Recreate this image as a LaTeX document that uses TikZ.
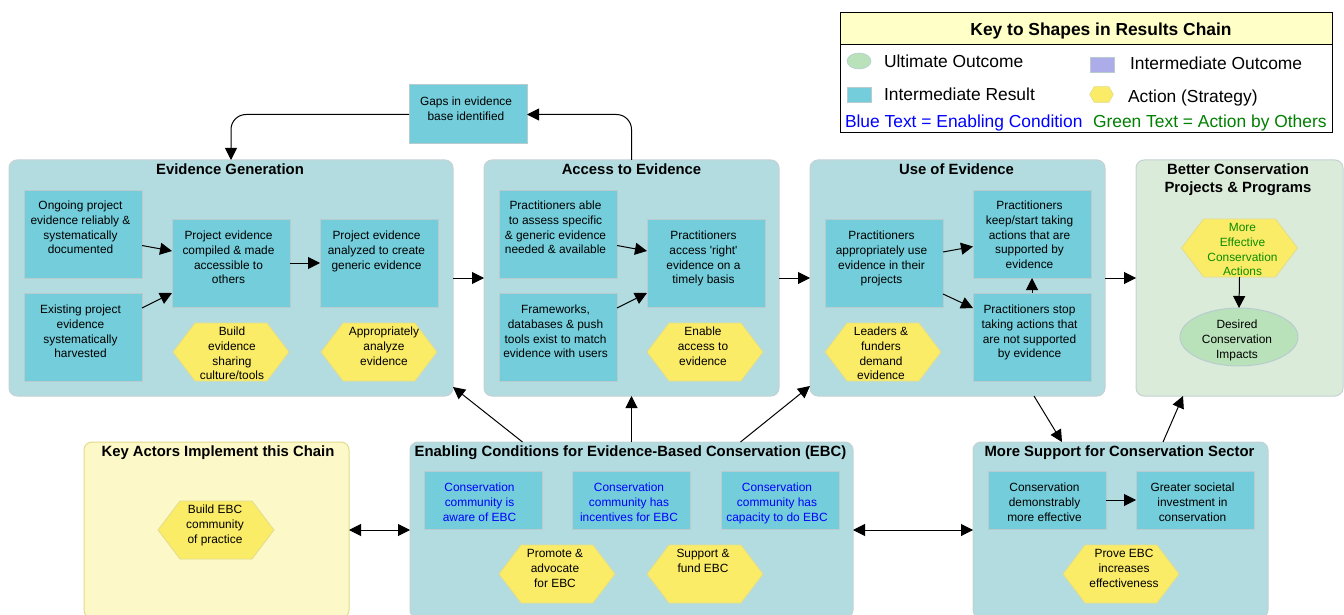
\documentclass[tikz,border=0pt]{standalone}
\usepackage{fontspec}
\setmainfont{Liberation Sans}
\newfontfamily\plainf{Liberation Sans}
\usetikzlibrary{arrows.meta,shapes.geometric}
\definecolor{irfill}{RGB}{115,205,218}
\definecolor{irline}{RGB}{184,204,208}
\definecolor{panelfill}{RGB}{179,220,224}
\definecolor{panelline}{RGB}{196,210,212}
\definecolor{hexfill}{RGB}{251,236,103}
\definecolor{hexline}{RGB}{226,220,140}
\definecolor{greenpanel}{RGB}{218,235,217}
\definecolor{ellfill}{RGB}{185,226,186}
\definecolor{keyhead}{RGB}{255,255,200}
\definecolor{actorpanel}{RGB}{252,248,200}
\definecolor{iofill}{RGB}{172,172,232}
\definecolor{greentext}{RGB}{0,128,0}
\definecolor{hexgreen}{RGB}{10,140,0}
\makeatletter
\pgfdeclareshape{hexshape}{
  \inheritsavedanchors[from=rectangle]
  \inheritanchorborder[from=rectangle]
  \inheritanchor[from=rectangle]{center}
  \inheritanchor[from=rectangle]{north}
  \inheritanchor[from=rectangle]{south}
  \inheritanchor[from=rectangle]{east}
  \inheritanchor[from=rectangle]{west}
  \backgroundpath{
    \southwest \pgf@xa=\pgf@x \pgf@ya=\pgf@y
    \northeast \pgf@xb=\pgf@x \pgf@yb=\pgf@y
    \pgf@xc=\pgf@xb \advance\pgf@xc by -\pgf@xa \pgf@xc=0.19\pgf@xc
    \pgf@yc=\pgf@ya \advance\pgf@yc by \pgf@yb \pgf@yc=0.5\pgf@yc
    \pgfpathmoveto{\pgfqpoint{\pgf@xa}{\pgf@yc}}
    \pgfpathlineto{\pgfpoint{\pgf@xa+\pgf@xc}{\pgf@yb}}
    \pgfpathlineto{\pgfpoint{\pgf@xb-\pgf@xc}{\pgf@yb}}
    \pgfpathlineto{\pgfqpoint{\pgf@xb}{\pgf@yc}}
    \pgfpathlineto{\pgfpoint{\pgf@xb-\pgf@xc}{\pgf@ya}}
    \pgfpathlineto{\pgfpoint{\pgf@xa+\pgf@xc}{\pgf@ya}}
    \pgfpathclose
  }
}
\makeatother
% width, height, first baseline below top, horizontal offset, text
\newcommand{\tb}[5]{\parbox[c][#2pt][t]{#1pt}{\centering\leftskip=0pt plus 1fil\relax\rightskip=\dimexpr-2\dimexpr#4pt\relax\relax plus 1fil\relax\rule{0pt}{#3pt}#5}}
\newcommand{\ir}[2]{\tb{118}{#1}{20.5}{-2.5}{#2}}
\newcommand{\irt}[2]{\tb{118}{#1}{19.5}{-2.5}{#2}}
\newcommand{\hx}[2]{\tb{116}{58}{12.5}{#1}{#2}}
\tikzset{
  x=1pt,y=-1pt,
  body/.style={font=\fontsize{11.9}{14.8}\selectfont,inner sep=0pt,outer sep=0pt},
  panel/.style={body,rectangle,rounded corners=8pt,draw=panelline,line width=1pt,fill=panelfill,anchor=north west,font=\fontsize{14.85}{18}\selectfont\bfseries},
  irbox/.style={body,rectangle,fill=irfill,draw=irline,line width=1pt,anchor=north west},
  hexbox/.style={body,shape=hexshape,fill=hexfill,draw=hexline,line width=.8pt,anchor=center},
  conn/.style={line width=1pt,-{Triangle[length=12pt,width=12pt]}},
  conn2/.style={line width=1pt,{Triangle[length=12pt,width=12pt]}-{Triangle[length=12pt,width=12pt]}},
  keytext/.style={inner sep=0pt,outer sep=0pt,anchor=base west,font=\fontsize{17.4}{20}\selectfont},
}
\begin{document}
\begin{tikzpicture}
\clip (0,0) rectangle (1344,615);
\fill[white] (0,0) rectangle (1344,615);
% panels
\node[panel] (evid) at (9,160) {\tb{444}{236}{14.5}{-1}{Evidence Generation}};
\node[panel] (acc) at (484,160) {\tb{295}{236}{14.5}{0}{Access to Evidence}};
\node[panel] (use) at (810,160) {\tb{295}{236}{14.5}{-1}{Use of Evidence}};
\node[panel,fill=greenpanel] (better) at (1136,160) {\tb{207}{236}{14.5}{-1.5}{Better Conservation\\Projects \& Programs}};
\node[panel,fill=actorpanel,draw=hexline] (actors) at (84,442) {\tb{265}{176}{14.5}{1.5}{Key Actors Implement this Chain}};
\node[panel] (enab) at (410,442) {\tb{443}{176}{14.5}{-1}{Enabling Conditions for Evidence-Based Conservation (EBC)}};
\node[panel] (supp) at (973,442) {\tb{295}{176}{14.5}{-1}{More Support for Conservation Sector}};
% gaps
\node[irbox] (gaps) at (409,85) {\tb{118}{59}{20.5}{-2}{Gaps in evidence\\base identified}};
% evidence generation
\node[irbox] (ongoing) at (24,190) {\irt{88}{Ongoing project\\evidence reliably \&\\systematically\\documented}};
\node[irbox] (existing) at (24,293) {\ir{88}{Existing project\\evidence\\systematically\\harvested}};
\node[irbox] (compiled) at (172,219) {\ir{88}{Project evidence\\compiled \& made\\accessible to\\others}};
\node[irbox] (analyzed) at (320,219) {\ir{88}{Project evidence\\analyzed to create\\generic evidence}};
\node[hexbox] (build) at (231,352) {\hx{1}{Build\\evidence\\sharing\\culture/tools}};
\node[hexbox] (approp) at (379,352) {\hx{5}{Appropriately\\analyze\\evidence}};
% access
\node[irbox] (able) at (499,190) {\irt{88}{Practitioners able\\to assess specific\\\& generic evidence\\needed \& available}};
\node[irbox] (frame) at (499,293) {\ir{88}{Frameworks,\\databases \& push\\tools exist to match\\evidence with users}};
\node[irbox] (right) at (647,219) {\ir{88}{Practitioners\\access {\plainf 'right'}\\evidence on a\\timely basis}};
\node[hexbox] (enable) at (705,352) {\hx{-2}{Enable\\access to\\evidence}};
% use
\node[irbox] (approuse) at (825,219) {\ir{88}{Practitioners\\appropriately use\\evidence in their\\projects}};
\node[irbox] (keep) at (973,190) {\irt{88}{Practitioners\\keep/start taking\\actions that are\\supported by\\evidence}};
\node[irbox] (stop) at (973,293) {\ir{88}{Practitioners stop\\taking actions that\\are not supported\\by evidence}};
\node[hexbox] (leaders) at (883,352) {\hx{-2}{Leaders \&\\funders\\demand\\evidence}};
% better
\node[hexbox] (effective) at (1239.5,248) {\hx{3}{\color{hexgreen}More\\Effective\\Conservation\\Actions}};
\node[body,ellipse,fill=ellfill,draw=irline,line width=1pt] (impacts) at (1239,337) {\tb{83.4}{41}{12}{-2}{Desired\\Conservation\\Impacts}};
% actors
\node[hexbox] (ebccomm) at (216,530) {\hx{-1}{Build EBC\\community\\of practice}};
% enabling
\node[irbox] (aware) at (424,471) {\tb{118}{58}{20.5}{-3.5}{\color{blue}Conservation\\community is\\aware of EBC}};
\node[irbox] (incent) at (572,471) {\tb{118}{58}{20.5}{-2}{\color{blue}Conservation\\community has\\incentives for EBC}};
\node[irbox] (capac) at (721,471) {\tb{118}{58}{20.5}{-3}{\color{blue}Conservation\\community has\\capacity to do EBC}};
\node[hexbox] (promote) at (557,574) {\hx{-2}{Promote \&\\advocate\\for EBC}};
\node[hexbox] (support) at (705,574) {\hx{-2}{Support \&\\fund EBC}};
% more support
\node[irbox] (demon) at (988,471) {\ir{58}{Conservation\\demonstrably\\more effective}};
\node[irbox] (invest) at (1136,471) {\ir{58}{Greater societal\\investment in\\conservation}};
\node[hexbox] (prove) at (1121,574) {\hx{3}{Prove EBC\\increases\\effectiveness}};
% key
\node[rectangle,draw=black,line width=1pt,fill=white,minimum width=492pt,minimum height=120pt,anchor=north west,inner sep=0pt,outer sep=0pt] (keybox) at (840,13) {};
\node[rectangle,draw=black,line width=1pt,fill=keyhead,anchor=north west,inner sep=0pt,outer sep=0pt,font=\fontsize{17.4}{20}\selectfont\bfseries] (keyhead) at (840,13) {\tb{492}{32}{23}{15}{Key to Shapes in Results Chain}};
\node[ellipse,fill=ellfill,draw=irline,line width=.6pt,minimum width=24pt,minimum height=16pt,inner sep=0pt] (kuo) at (859,61) {};
\node[rectangle,fill=iofill,draw=irline,line width=.6pt,minimum width=24pt,minimum height=15pt,inner sep=0pt] (kio) at (1102,64.5) {};
\node[rectangle,fill=irfill,draw=irline,line width=.6pt,minimum width=24pt,minimum height=15pt,inner sep=0pt] (kir) at (859,94.5) {};
\node[shape=hexshape,fill=hexfill,draw=hexline,line width=.6pt,minimum width=23pt,minimum height=15pt,inner sep=0pt] (kact) at (1101.5,94.5) {};
\node[keytext] (tuo) at (884,67.5) {Ultimate Outcome};
\node[keytext] (tio) at (1130,69.5) {Intermediate Outcome};
\node[keytext] (tir) at (884,100.5) {Intermediate Result};
\node[keytext] (tact) at (1128,102.5) {Action (Strategy)};
\node[keytext,text=blue] (tblue) at (845,127.5) {Blue Text = Enabling Condition};
\node[keytext,text=greentext] (tgreen) at (1093,127.5) {Green Text = Action by Others};
% connectors
\draw[conn,rounded corners=15pt] (acc.north) |- (gaps.east);
\draw[conn,rounded corners=15pt] (gaps.west) -| (evid.north);
\draw[conn] ([yshift=-11.5pt]ongoing.east) -- ([yshift=12pt]compiled.west);
\draw[conn] ([yshift=29pt]existing.east) -- ([yshift=-30pt]compiled.west);
\draw[conn] (compiled.east) -- (analyzed.west);
\draw[conn] (evid.east) -- (acc.west);
\draw[conn] ([yshift=-11.5pt]able.east) -- ([yshift=12pt]right.west);
\draw[conn] ([yshift=29pt]frame.east) -- ([yshift=-30pt]right.west);
\draw[conn] (acc.east) -- (use.west);
\draw[conn] ([yshift=11pt]approuse.east) -- ([yshift=-12.5pt]keep.west);
\draw[conn] ([yshift=-31pt]approuse.east) -- ([yshift=29pt]stop.west);
\draw[conn] (stop.north) -- (keep.south);
\draw[conn] (use.east) -- (better.west);
\draw[conn] (effective.south) -- (impacts.north);
\draw[conn] ([xshift=-109pt]enab.north) -- ([yshift=-109pt]evid.east);
\draw[conn] (enab.north) -- (acc.south);
\draw[conn] ([xshift=109pt]enab.north) -- ([yshift=-108pt]use.west);
\draw[conn] ([xshift=76.5pt]use.south) -- ([xshift=-58.5pt]supp.north);
\draw[conn] ([xshift=42.5pt]supp.north) -- ([xshift=-56.5pt]better.south);
\draw[conn2] (actors.east) -- (enab.west);
\draw[conn2] (enab.east) -- (supp.west);
\draw[conn] (demon.east) -- (invest.west);
\end{tikzpicture}
\end{document}
